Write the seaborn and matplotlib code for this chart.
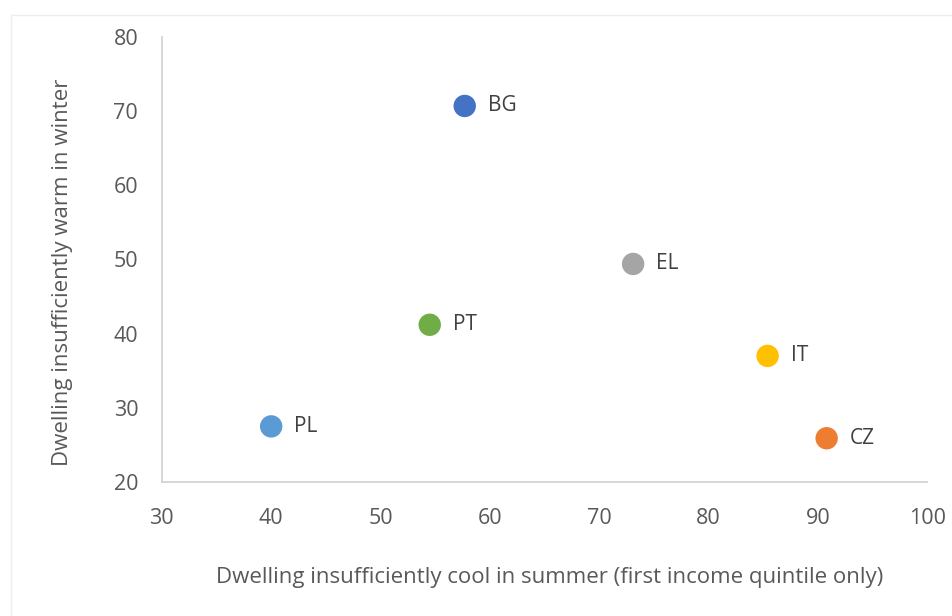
import matplotlib
matplotlib.use("Agg")
import matplotlib.pyplot as plt
from matplotlib.patches import Rectangle
import seaborn as sns
import pandas as pd

# Country codes and the two housing-comfort indicators (% of households)
countries = ["BG", "CZ", "EL", "IT", "PL", "PT"]
summer_too_hot = [57.7, 90.8, 73.1, 85.4, 40.0, 54.5]
winter_too_cold = [70.7, 25.9, 49.4, 37.0, 27.5, 41.2]

x_ticks = [30, 40, 50, 60, 70, 80, 90, 100]
y_ticks = [20, 30, 40, 50, 60, 70, 80]

palette = ["#4472C4", "#ED7D31", "#A5A5A5", "#FFC000", "#5B9BD5", "#70AD47"]

df = pd.DataFrame({"country": countries,
                   "summer": summer_too_hot,
                   "winter": winter_too_cold})

sns.set_style("white")
plt.rcParams["font.family"] = ["Open Sans", "DejaVu Sans"]
text_col = "#595959"

fig = plt.figure(figsize=(9.52, 6.16), dpi=100)

# faint chart-area frame
fig.patches.append(Rectangle((0.0115, -0.05), 1.05, 1.026, transform=fig.transFigure,
                             fill=False, edgecolor="#EEEEEE", linewidth=1.0))

ax = fig.add_axes([0.170, 0.2175, 0.804, 0.7225])

sns.scatterplot(data=df, x="summer", y="winter", hue="country",
                palette=palette, s=260, edgecolor="none", legend=False, ax=ax,
                zorder=3)

for name, xv, yv in zip(countries, summer_too_hot, winter_too_cold):
    ax.annotate(name, (xv, yv), xytext=(16.5, 0), textcoords="offset points",
                va="center", ha="left", fontsize=15, color="#404040")

ax.set_xlim(30, 100)
ax.set_ylim(20, 80)
ax.set_xticks(x_ticks)
ax.set_yticks(y_ticks)
ax.tick_params(axis="both", length=0, labelsize=15.5, labelcolor=text_col)
ax.tick_params(axis="x", pad=19)
ax.tick_params(axis="y", pad=17)

for side in ["top", "right"]:
    ax.spines[side].set_visible(False)
for side in ["left", "bottom"]:
    ax.spines[side].set_color("#D0D0D0")
    ax.spines[side].set_linewidth(1.2)

ax.set_xlabel("Dwelling insufficiently cool in summer (first income quintile only)",
              fontsize=16, color=text_col, va="center")
ax.set_ylabel("Dwelling insufficiently warm in winter",
              fontsize=16, color=text_col, va="center")
ax.xaxis.set_label_coords(0.506, -0.214)
ax.yaxis.set_label_coords(-0.13, 0.472)

fig.savefig("out.png", dpi=100, facecolor="white")
